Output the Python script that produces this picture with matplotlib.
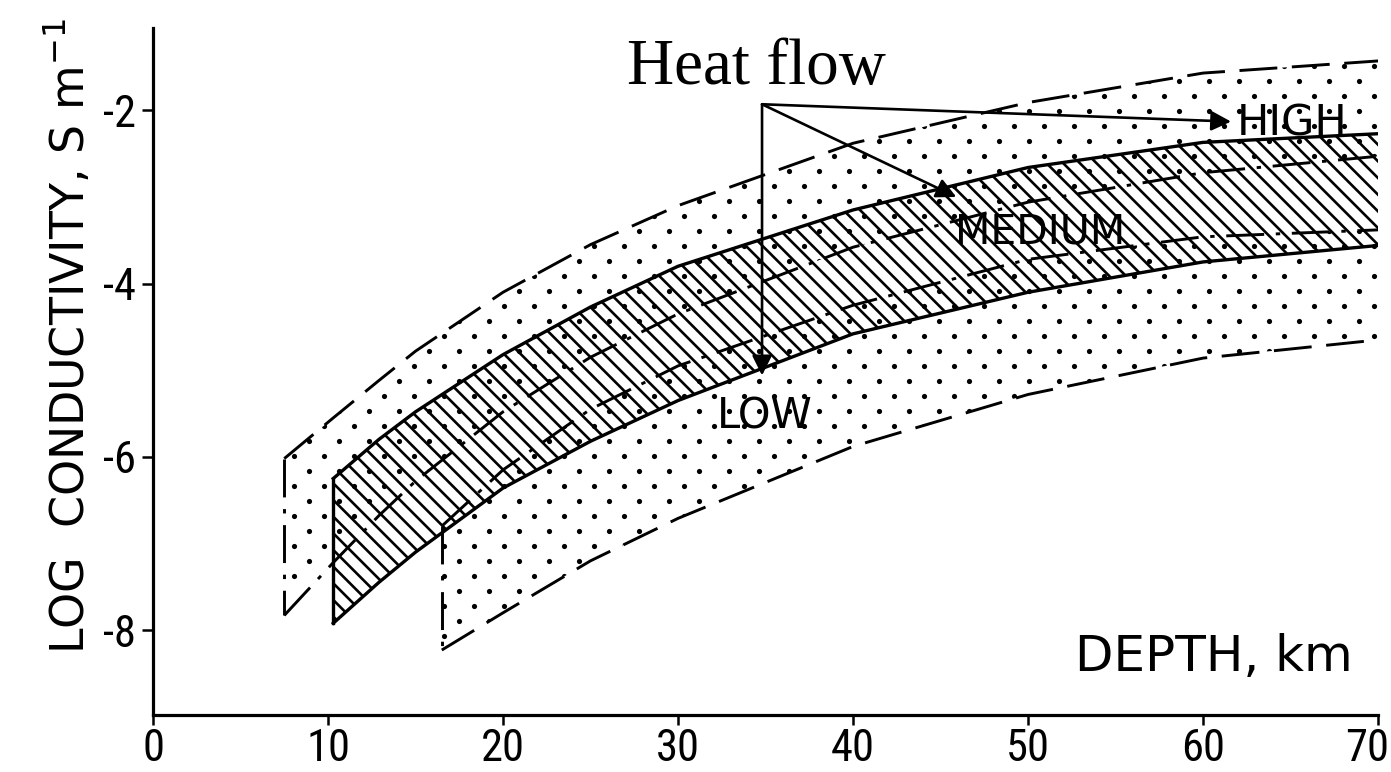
import matplotlib
matplotlib.use("Agg")
import matplotlib.pyplot as plt
import matplotlib.transforms as mtransforms
import numpy as np
from matplotlib import font_manager as fm

# ---- data ----
depth_high = [7.5, 10.3, 12.9, 15, 20, 25, 30, 40, 50, 60, 70]
high_upper = [-6.02, -5.55, -5.12, -4.78, -4.10, -3.55, -3.10, -2.38, -1.91, -1.57, -1.43]
high_lower = [-7.83, -7.22, -6.68, -6.28, -5.48, -4.85, -4.35, -3.58, -3.06, -2.72, -2.53]

depth_med = [10.3, 12.9, 15, 20, 25, 30, 40, 50, 60, 70]
med_upper = [-6.25, -5.80, -5.48, -4.82, -4.27, -3.80, -3.15, -2.66, -2.37, -2.27]
med_lower = [-7.92, -7.45, -7.10, -6.36, -5.82, -5.35, -4.58, -4.10, -3.75, -3.56]

depth_low = [16.5, 20, 25, 30, 40, 50, 60, 70]
low_upper = [-6.80, -6.15, -5.45, -4.95, -4.25, -3.72, -3.46, -3.38]
low_lower = [-8.23, -7.80, -7.20, -6.71, -5.88, -5.28, -4.86, -4.65]

x_ticks = [0, 10, 20, 30, 40, 50, 60, 70]
y_ticks = [-2, -4, -6, -8]
y_tick_labels = ["-2", "-4", "-6", "-8"]

arrow_origin = (34.8, -1.93)
arrow_tips = {"HIGH": (61.6, -2.13), "MEDIUM": (45.9, -3.0), "LOW": (34.8, -5.06)}
label_pos = {"HIGH": (61.9, -2.15), "MEDIUM": (45.8, -3.41), "LOW": (32.2, -5.53)}
label_size = {"HIGH": 31, "MEDIUM": 29.5, "LOW": 30}

# pick a narrow font for tick labels if one is installed
names = {f.name for f in fm.fontManager.ttflist}
narrow_family, narrow_stretch = "DejaVu Sans", "condensed"
for cand in ("Liberation Sans Narrow", "Roboto Condensed", "DejaVu Sans Condensed"):
    if cand in names:
        narrow_family, narrow_stretch = cand, "normal"
        break

plt.rcParams["hatch.linewidth"] = 1.9
plt.rcParams["hatch.color"] = "black"

fig = plt.figure(figsize=(13.91, 7.72), dpi=100)
ax = fig.add_axes([0.110, 0.0738, 0.8807, 0.8899])
xlim, ylim = (0, 70), (-8.98, -1.05)
ax.set_xlim(*xlim)
ax.set_ylim(*ylim)

lw = 2.1
dash = (0, (13, 5))
dashdot = (0, (13, 4, 1.5, 4))

# medium band (hatched)
ax.fill_between(depth_med, med_lower, med_upper, facecolor="none",
                edgecolor="black", linewidth=0, hatch="\\\\")

# high and low bands: screen-tone dots clipped to the band polygons
ax_w, ax_h = 0.8807 * 1391, 0.8899 * 772
gx, gy = [], []
for i, r in enumerate(np.arange(4, ax_h, 15.0)):
    xs = np.arange(6 + (15 if i % 2 else 0), ax_w, 30.0)
    gx.extend(xs / ax_w)
    gy.extend([r / ax_h] * len(xs))
for dep, lo, up in ((depth_high, high_lower, high_upper),
                    (depth_low, low_lower, low_upper)):
    band = ax.fill_between(dep, lo, up, facecolor="none", linewidth=0)
    sc = ax.scatter(gx, gy, s=14, c="k", linewidths=0, transform=ax.transAxes)
    sc.set_clip_path(band.get_paths()[0], ax.transData)

# boundaries
ax.plot(depth_high, high_upper, color="k", lw=lw, linestyle=dash)
ax.plot(depth_high, high_lower, color="k", lw=lw, linestyle=dashdot)
ax.plot([depth_high[0], depth_high[0]], [high_upper[0], high_lower[0]],
        color="k", lw=lw, linestyle=dashdot)

ax.plot(depth_med, med_upper, color="k", lw=lw + 0.3)
ax.plot(depth_med, med_lower, color="k", lw=lw + 0.3)
ax.plot([depth_med[0], depth_med[0]], [med_upper[0], med_lower[0]],
        color="k", lw=lw + 0.3)

ax.plot(depth_low, low_upper, color="k", lw=lw, linestyle=dashdot)
ax.plot(depth_low, low_lower, color="k", lw=lw, linestyle=dash)
ax.plot([depth_low[0], depth_low[0]], [low_upper[0], low_lower[0]],
        color="k", lw=lw, linestyle=dashdot)

# arrows and labels
for name, tip in arrow_tips.items():
    ax.annotate("", xy=tip, xytext=arrow_origin,
                arrowprops=dict(arrowstyle="-|>", color="k", lw=1.9,
                                mutation_scale=30, shrinkA=0, shrinkB=0))
for name, (px, py) in label_pos.items():
    ax.text(px, py, name, ha="left", va="center", fontsize=label_size[name],
            family="DejaVu Sans", color="k")

ax.text(34.5, -1.52, "Heat flow", ha="center", va="center", fontsize=47,
        family="Liberation Serif", color="k")
ax.text(52.7, -8.31, "DEPTH, km", ha="left", va="center", fontsize=36,
        family="DejaVu Sans", color="k")

# axes styling
for s in ("top", "right"):
    ax.spines[s].set_visible(False)
for s in ("left", "bottom"):
    ax.spines[s].set_linewidth(2.3)
ax.set_xticks(x_ticks)
ax.set_xticklabels([str(v) for v in x_ticks], family=narrow_family,
                   fontstretch=narrow_stretch, fontsize=32)
ax.set_yticks(y_ticks)
ax.set_yticklabels(y_tick_labels, family=narrow_family,
                   fontstretch=narrow_stretch, fontsize=32)
ax.tick_params(axis="x", direction="out", length=7, width=1.8, pad=2)
ax.tick_params(axis="y", direction="out", length=8, width=1.8, pad=4)
# nudge the last x tick label (at the figure edge) slightly left
last = ax.get_xticklabels()[-1]
last.set_transform(last.get_transform() +
                   mtransforms.ScaledTranslation(-8 / 72, 0, fig.dpi_scale_trans))
ax.set_ylabel("LOG  CONDUCTIVITY, S m$^{-1}$", fontsize=33, family="DejaVu Sans")
ax.yaxis.set_label_coords(-0.047, 0.552)
ax.set_xlim(*xlim)
ax.set_ylim(*ylim)

fig.savefig("out.png", dpi=100, facecolor="white")
